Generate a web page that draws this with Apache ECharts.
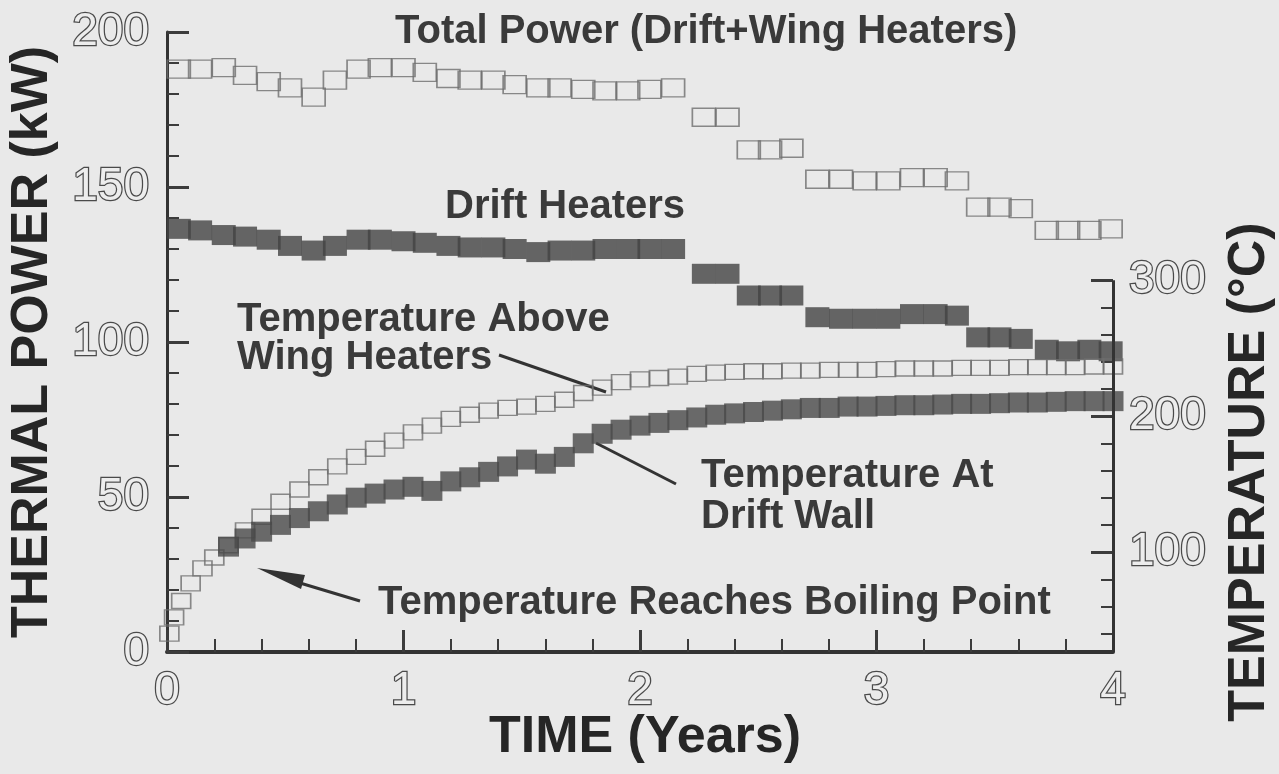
<!DOCTYPE html>
<html>
<head>
<meta charset="utf-8">
<title>Thermal power and temperature</title>
<script src="https://cdn.jsdelivr.net/npm/echarts@6/dist/echarts.min.js"></script>
<style>
  html, body { margin: 0; padding: 0; background: #e9e9e9; }
  #chart { width: 1279px; height: 774px; }
</style>
</head>
<body>
<div id="chart"></div>
<script>
// 전력 데이터 (kW) - 시간(년)
const powerTimes = [0.05, 0.14, 0.24, 0.33, 0.43, 0.52, 0.62, 0.71, 0.81, 0.90, 1.00, 1.09, 1.19, 1.28, 1.38, 1.47, 1.57, 1.66, 1.76, 1.85, 1.95, 2.04, 2.14,
  2.27, 2.37, 2.46, 2.55, 2.64, 2.75, 2.85, 2.95, 3.05, 3.15, 3.25, 3.34, 3.43, 3.52, 3.61, 3.72, 3.81, 3.90, 3.99];
const totalPower = [188, 188, 188.5, 186, 184, 182, 179, 184.5, 188, 188.5, 188.5, 187, 185, 184.5, 184.5, 183, 182, 182, 181.5, 181, 181, 181.5, 182,
  172.5, 172.5, 162, 162, 162.5, 152.5, 152.5, 152, 152, 153, 153, 152, 143.5, 143.5, 143, 136, 136, 136, 136.5];
const driftHeaters = [136.5, 136, 134.5, 134, 133, 131, 129.5, 131, 133, 133, 132.5, 132, 131, 130.5, 130.5, 130, 129, 129.5, 129.5, 130, 130, 130, 130,
  122, 122, 115, 115, 115, 108, 107.5, 107.5, 107.5, 109, 109, 108.5, 101.5, 101.5, 101, 97.5, 97, 97.5, 97];

// 온도 데이터 (°C)
const tempTimes = [0.01, 0.03, 0.06, 0.10, 0.15, 0.20, 0.26, 0.33, 0.40, 0.48, 0.56, 0.64, 0.72, 0.80, 0.88, 0.96, 1.04, 1.12, 1.20, 1.28,
  1.36, 1.44, 1.52, 1.60, 1.68, 1.76, 1.84, 1.92, 2.00, 2.08, 2.16, 2.24, 2.32, 2.40, 2.48, 2.56, 2.64, 2.72, 2.80, 2.88,
  2.96, 3.04, 3.12, 3.20, 3.28, 3.36, 3.44, 3.52, 3.60, 3.68, 3.76, 3.84, 3.92, 4.00];
const wingTemp = [40, 52, 64, 77, 88, 96, 105, 116, 126, 137, 146, 155, 163, 170, 176, 182, 188, 193, 198, 201,
  204, 206, 207, 209, 212, 217, 221, 225, 227, 228, 229, 231, 232, 232.5, 233, 233, 233.5, 233.5, 234, 234,
  234, 234.5, 235, 235, 235, 235.5, 235.5, 235.5, 236, 236, 236, 236, 236.5, 236.5];
const wallTemp = [null, null, null, null, null, null, 104, 110, 115, 120, 125, 130, 135, 140, 143, 146, 148, 145, 152, 155,
  159, 163, 168, 165, 170, 180, 187, 190, 193, 195, 197, 199, 201, 202, 203, 204, 205, 206, 206, 207,
  207, 207.5, 208, 208, 208.5, 209, 209, 209.5, 210, 210, 210.5, 211, 211, 211];

// 오른쪽 온도축 눈금
const tempMajor = [100, 200, 300];
const tempMinor = [40, 60, 80, 120, 140, 160, 180, 220, 240, 260, 280];
const tempMin = 26.5;
const tempMax = 482.5;
const timeMax = 4;

const chart = echarts.init(document.getElementById('chart'));

const FONT = '"Liberation Sans", Arial, Helvetica, sans-serif';
const INK = '#3a3a3a';
const TICK = '#3c3c3c';

// 속이 빈 숫자 라벨
const hollowLabel = { fontFamily: FONT, fontSize: 46, color: '#ededed', textBorderColor: '#4a4a4a', textBorderWidth: 2.5 };

function pairs(xs, ys) {
  return xs.map((x, i) => [x, ys[i]]).filter(p => p[1] != null);
}

function note(text, x, y) {
  return {
    type: 'text', x: x, y: y, silent: true,
    style: { text: text, font: 'bold 40px ' + FONT, fill: INK, align: 'left', textAlign: 'left', verticalAlign: 'middle', textVerticalAlign: 'middle' }
  };
}

function axisName(text, x, y, rotation) {
  return {
    type: 'text', x: x, y: y, rotation: rotation, silent: true,
    style: { text: text, font: 'bold 52px ' + FONT, fill: '#262626', align: 'center', textAlign: 'center', verticalAlign: 'middle', textVerticalAlign: 'middle' }
  };
}

function pointer(x1, y1, x2, y2) {
  return { type: 'line', silent: true, shape: { x1, y1, x2, y2 }, style: { stroke: '#333', lineWidth: 3 } };
}

// 오른쪽 보조축 (라벨 / 큰 눈금 / 작은 눈금 따로)
function tempAxis(extra) {
  return Object.assign({
    type: 'value', position: 'right', min: tempMin, max: tempMax,
    axisLine: { show: false },
    axisTick: { show: false },
    axisLabel: { show: false },
    splitLine: { show: false }
  }, extra);
}

const option = {
  backgroundColor: '#e9e9e9',
  animation: false,
  grid: { left: 167, right: 166, top: 32, bottom: 122, containLabel: false, outerBoundsMode: 'none' },
  xAxis: {
    type: 'value', min: 0, max: timeMax, interval: 1,
    axisLine: { show: true, onZero: false, lineStyle: { color: '#333', width: 4 } },
    axisTick: { show: true, inside: true, length: 22, lineStyle: { color: TICK, width: 3 } },
    minorTick: { show: true, splitNumber: 5, length: 13, lineStyle: { color: TICK, width: 2 } },
    axisLabel: Object.assign({ margin: 16 }, hollowLabel),
    splitLine: { show: false }
  },
  yAxis: [
    {
      type: 'value', position: 'left', min: 0, max: 200, interval: 50,
      axisLine: { show: true, onZero: false, lineStyle: { color: '#333', width: 3 } },
      axisTick: { show: true, inside: true, length: 22, lineStyle: { color: TICK, width: 3 } },
      minorTick: { show: true, splitNumber: 5, length: 12, lineStyle: { color: TICK, width: 2 } },
      axisLabel: Object.assign({ margin: 18 }, hollowLabel),
      splitLine: { show: false }
    },
    tempAxis({ axisLabel: Object.assign({ show: true, margin: 16, customValues: tempMajor }, hollowLabel) }),
    tempAxis({ axisTick: { show: true, inside: true, length: 22, customValues: tempMajor, lineStyle: { color: TICK, width: 3 } } }),
    tempAxis({ axisTick: { show: true, inside: true, length: 12, customValues: tempMinor, lineStyle: { color: TICK, width: 2 } } })
  ],
  series: [
    {
      name: 'Total Power (Drift+Wing Heaters)', type: 'scatter', yAxisIndex: 0, silent: true,
      symbol: 'rect', symbolSize: [23, 18],
      itemStyle: { color: 'rgba(0,0,0,0)', borderColor: '#6e6e6e', borderWidth: 1.5 },
      data: pairs(powerTimes, totalPower)
    },
    {
      name: 'Drift Heaters', type: 'scatter', yAxisIndex: 0, silent: true,
      symbol: 'rect', symbolSize: [24, 20],
      itemStyle: { color: '#424242' },
      data: pairs(powerTimes, driftHeaters)
    },
    {
      name: 'Temperature Above Wing Heaters', type: 'scatter', yAxisIndex: 1, silent: true,
      symbol: 'rect', symbolSize: [19, 15],
      itemStyle: { color: 'rgba(0,0,0,0)', borderColor: '#6e6e6e', borderWidth: 1.5 },
      data: pairs(tempTimes, wingTemp),
      // 오른쪽 축선 (300 까지만)
      markLine: {
        silent: true, symbol: ['none', 'none'], label: { show: false },
        lineStyle: { color: '#333', width: 3, type: 'solid' },
        data: [[{ coord: [timeMax, tempMin] }, { coord: [timeMax, 300] }]]
      }
    },
    {
      name: 'Temperature At Drift Wall', type: 'scatter', yAxisIndex: 1, silent: true,
      symbol: 'rect', symbolSize: [21, 20],
      itemStyle: { color: '#484848' },
      data: pairs(tempTimes, wallTemp)
    }
  ],
  graphic: [
    note('Total Power (Drift+Wing Heaters)', 395, 32),
    note('Drift Heaters', 445, 207),
    note('Temperature Above', 237, 320),
    note('Wing Heaters', 237, 358),
    note('Temperature At', 701, 476),
    note('Drift Wall', 701, 517),
    note('Temperature Reaches Boiling Point', 378, 603),
    axisName('THERMAL POWER (kW)', 33, 342, Math.PI / 2),
    axisName('TEMPERATURE (°C)', 1250, 472, Math.PI / 2),
    axisName('TIME (Years)', 645, 738, 0),
    pointer(499, 355, 606, 392),
    pointer(596, 443, 676, 484),
    pointer(300, 583, 360, 601),
    { type: 'polygon', silent: true, shape: { points: [[257, 568], [305, 575], [301, 589]] }, style: { fill: '#333' } }
  ]
};

chart.setOption(option);
</script>
</body>
</html>
